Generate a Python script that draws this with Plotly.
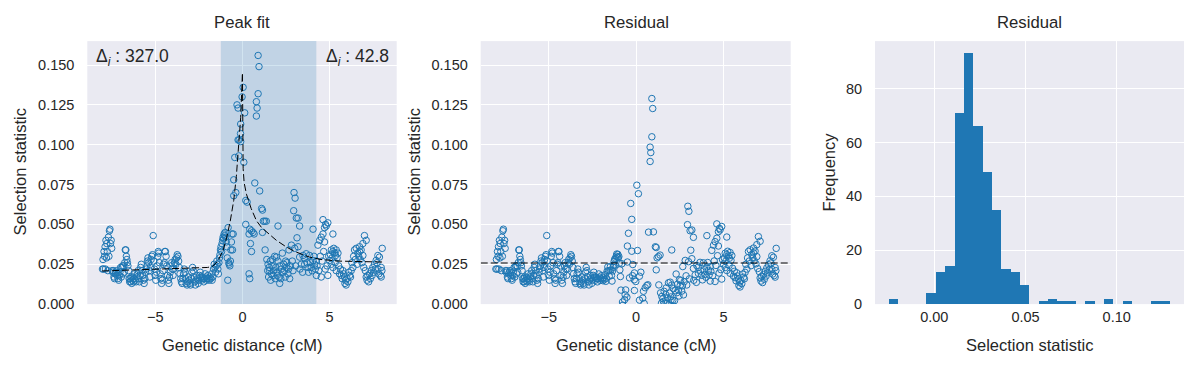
import numpy as np
import plotly.graph_objects as go

# ---------------- data ----------------
pos_left = [-8.03, -8.00, -7.97, -7.94, -7.91, -7.88, -7.86, -7.83, -7.80, -7.78, -7.75, -7.72, -7.69, -7.66, -7.63, -7.60, -7.57, -7.53, -7.50,
            -7.47, -7.44, -7.41, -7.37, -7.34, -7.30, -7.26, -7.22, -7.18, -7.14, -7.10, -7.06, -7.03,
            -6.99, -6.95, -6.92, -6.88, -6.85, -6.81, -6.78, -6.75, -6.72, -6.69, -6.66, -6.63, -6.60, -6.57, -6.53,
            -6.50, -6.47, -6.44, -6.41, -6.38, -6.35, -6.32, -6.28, -6.25, -6.22, -6.18, -6.14, -6.10, -6.06, -6.02,
            -5.98, -5.95, -5.91, -5.87, -5.84, -5.80, -5.76, -5.72, -5.68, -5.64, -5.60, -5.56, -5.52,
            -5.48, -5.45, -5.42, -5.38, -5.35, -5.31, -5.28, -5.24, -5.20, -5.16, -5.12, -5.09, -5.05, -5.01,
            -4.97, -4.93, -4.90, -4.86, -4.83, -4.80, -4.76, -4.72, -4.68, -4.64, -4.60, -4.56, -4.52,
            -4.48, -4.45, -4.42, -4.38, -4.34, -4.30, -4.26, -4.22, -4.18, -4.14, -4.10, -4.06, -4.02,
            -3.98, -3.94, -3.90, -3.86, -3.82, -3.78, -3.74, -3.70, -3.66, -3.62, -3.58, -3.54,
            -3.50, -3.46, -3.42, -3.38, -3.34, -3.30, -3.26, -3.22, -3.18, -3.14, -3.10, -3.06, -3.02,
            -2.98, -2.94, -2.90, -2.86, -2.82, -2.78, -2.74, -2.70, -2.66, -2.62, -2.58, -2.54,
            -2.50, -2.46, -2.42, -2.38, -2.34, -2.30, -2.26, -2.22, -2.18, -2.14, -2.10, -2.06, -2.02,
            -1.98, -1.94, -1.90, -1.86, -1.82, -1.78, -1.74, -1.70, -1.66, -1.62, -1.58, -1.54, -1.50]
stat_left = [0.022, 0.028, 0.022, 0.033, 0.030, 0.036, 0.022, 0.040, 0.029, 0.038, 0.033, 0.021, 0.042, 0.030, 0.046, 0.047, 0.038, 0.040, 0.035,
             0.021, 0.020, 0.021, 0.017, 0.016, 0.019, 0.020, 0.021, 0.018, 0.016, 0.015, 0.018, 0.020,
             0.023, 0.017, 0.023, 0.024, 0.019, 0.024, 0.020, 0.026, 0.034, 0.034, 0.030, 0.028, 0.026, 0.024, 0.021,
             0.016, 0.014, 0.016, 0.014, 0.017, 0.013, 0.015, 0.017, 0.014, 0.016, 0.019, 0.015, 0.014, 0.017, 0.019,
             0.021, 0.016, 0.014, 0.018, 0.023, 0.025, 0.021, 0.018, 0.015, 0.013, 0.016, 0.020, 0.022,
             0.024, 0.027, 0.029, 0.026, 0.021, 0.017, 0.023, 0.028, 0.030, 0.031, 0.043, 0.027, 0.022, 0.018,
             0.015, 0.020, 0.024, 0.030, 0.033, 0.032, 0.026, 0.019, 0.016, 0.013, 0.015, 0.021, 0.025,
             0.026, 0.033, 0.033, 0.030, 0.024, 0.018, 0.015, 0.013, 0.017, 0.020, 0.024, 0.026, 0.022,
             0.018, 0.022, 0.026, 0.028, 0.025, 0.029, 0.031, 0.030, 0.027, 0.023, 0.019, 0.016,
             0.014, 0.013, 0.016, 0.019, 0.022, 0.020, 0.016, 0.013, 0.012, 0.014, 0.017, 0.015, 0.013,
             0.012, 0.016, 0.020, 0.023, 0.021, 0.017, 0.014, 0.012, 0.015, 0.018, 0.016, 0.013,
             0.015, 0.018, 0.020, 0.017, 0.015, 0.017, 0.016, 0.014, 0.016, 0.019, 0.017, 0.015, 0.016,
             0.018, 0.016, 0.015, 0.017, 0.016, 0.019, 0.015, 0.017, 0.022, 0.025, 0.023, 0.020, 0.024]

pos_peak = [-1.47, -1.44, -1.41, -1.38, -1.35, -1.32, -1.29, -1.26, -1.23, -1.20, -1.17, -1.14, -1.11, -1.08, -1.05, -1.02,
            -0.99, -0.96, -0.93, -0.90, -0.87, -0.84, -0.82, -0.78, -0.76, -0.72, -0.69, -0.66, -0.63, -0.60, -0.57, -0.53,
            -0.50, -0.50, -0.44, -0.38, -0.31, -0.25, -0.25, -0.21, -0.19, -0.11, -0.10, -0.10, -0.02, 0.04, 0.08,
            0.13, 0.19, 0.19, 0.27, 0.38, 0.38, 0.42, 0.42, 0.46, 0.52, 0.52, 0.61, 0.67, 0.71,
            0.80, 0.80, 0.84, 0.90, 0.90, 0.95, 0.99, 1.10, 1.15, 1.15, 1.20, 1.28, 1.30, 1.37, 1.40, 1.45, 1.47]
stat_peak = [0.027, 0.025, 0.022, 0.019, 0.026, 0.029, 0.031, 0.034, 0.036, 0.033, 0.038, 0.040, 0.042, 0.041, 0.044, 0.043,
             0.045, 0.042, 0.039, 0.036, 0.029, 0.015, 0.048, 0.026, 0.025, 0.024, 0.027, 0.034, 0.039, 0.044, 0.034, 0.044,
             0.078, 0.068, 0.092, 0.070, 0.125, 0.123, 0.103, 0.093, 0.103, 0.107, 0.102, 0.113, 0.130, 0.136, 0.089,
             0.120, 0.065, 0.050, 0.064, 0.044, 0.019, 0.047, 0.016, 0.038, 0.046, 0.033, 0.045, 0.044, 0.076,
             0.127, 0.118, 0.123, 0.156, 0.132, 0.149, 0.071, 0.060, 0.059, 0.045, 0.052, 0.052, 0.034, 0.052, 0.028, 0.021, 0.025]

pos_right = [1.50, 1.53, 1.56, 1.60, 1.62, 1.66, 1.70, 1.72, 1.76, 1.80, 1.85, 1.88, 1.91, 1.95, 1.98, 2.00, 2.04, 2.04, 2.10,
             2.14, 2.14, 2.20, 2.23, 2.29, 2.33, 2.37, 2.42, 2.45, 2.48, 2.52, 2.55, 2.61, 2.65, 2.67, 2.71, 2.75, 2.81, 2.86,
             2.90, 2.94, 2.96, 3.00, 3.02, 3.05, 3.09, 3.13, 3.19, 3.19, 3.28, 3.28, 3.30, 3.38, 3.45, 3.47, 3.55, 3.57, 3.66,
             3.70, 3.76, 3.80, 3.85, 3.90, 3.95, 4.00, 4.05, 4.05, 4.10, 4.14, 4.18, 4.24, 4.24, 4.28,
             4.33, 4.38, 4.43, 4.47, 4.52, 4.52, 4.57, 4.62, 4.62, 4.66, 4.71, 4.71, 4.75, 4.77, 4.81, 4.85, 4.90, 4.90, 4.95,
             5.00, 5.05, 5.10, 5.10, 5.14, 5.19, 5.19, 5.19, 5.24, 5.29, 5.32, 5.34, 5.38, 5.38, 5.43, 5.48, 5.52, 5.57,
             5.62, 5.67, 5.72, 5.76, 5.80, 5.86, 5.88, 5.92, 5.95, 6.00, 6.05, 6.10, 6.15, 6.20, 6.24, 6.28, 6.34, 6.38,
             6.43, 6.48, 6.53, 6.58, 6.62, 6.67, 6.72, 6.72, 6.76, 6.81, 6.86, 6.91, 6.91, 6.96, 7.00, 7.05, 7.10, 7.10,
             7.15, 7.19, 7.24, 7.29, 7.34, 7.39, 7.44, 7.48, 7.53, 7.58, 7.62, 7.67, 7.72, 7.77, 7.77, 7.82, 7.86, 7.91,
             7.96, 7.96, 8.00, 8.02]
stat_right = [0.017, 0.023, 0.021, 0.027, 0.015, 0.019, 0.024, 0.028, 0.018, 0.021, 0.030, 0.016, 0.023, 0.0295, 0.020, 0.018, 0.027, 0.049, 0.017,
              0.024, 0.013, 0.016, 0.022, 0.032, 0.020, 0.025, 0.021, 0.017, 0.027, 0.023, 0.026, 0.019, 0.022, 0.034, 0.016, 0.024, 0.037, 0.027,
              0.021, 0.0586, 0.070, 0.035, 0.0665, 0.024, 0.054, 0.0416, 0.054, 0.036, 0.049, 0.0295, 0.022, 0.025, 0.020, 0.0305, 0.029, 0.025, 0.0316,
              0.026, 0.023, 0.020, 0.0305, 0.026, 0.023, 0.021, 0.047, 0.0274, 0.030, 0.025, 0.022, 0.018, 0.027, 0.024,
              0.037, 0.021, 0.040, 0.030, 0.042, 0.017, 0.027, 0.044, 0.053, 0.033, 0.048, 0.039, 0.022, 0.050, 0.049, 0.024, 0.051, 0.018, 0.030,
              0.0274, 0.031, 0.034, 0.025, 0.029, 0.033, 0.044, 0.023, 0.035, 0.032, 0.026, 0.0305, 0.034, 0.021, 0.029, 0.032, 0.024, 0.019,
              0.022, 0.018, 0.016, 0.021, 0.019, 0.017, 0.013, 0.015, 0.012, 0.016, 0.014, 0.020, 0.018, 0.017, 0.021, 0.026, 0.023, 0.030,
              0.034, 0.028, 0.035, 0.025, 0.032, 0.030, 0.033, 0.036, 0.028, 0.034, 0.026, 0.0305, 0.038, 0.023, 0.043, 0.021, 0.040, 0.017,
              0.015, 0.018, 0.014, 0.019, 0.016, 0.021, 0.018, 0.023, 0.020, 0.025, 0.022, 0.0274, 0.026, 0.0305, 0.022, 0.019, 0.0295, 0.018,
              0.023, 0.017, 0.021, 0.035]

# fitted peak model (dashed line)
fit_x = [-8.05, -6.0, -4.0, -2.5, -2.0, -1.7, -1.4, -1.1, -0.9, -0.7, -0.5, -0.35, -0.2, -0.1, 0.0,
         0.04, 0.1, 0.23, 0.5, 0.8, 1.1, 1.5, 1.95, 2.5, 3.0, 3.85, 4.5, 5.5, 6.5, 8.05]
fit_y = [0.0208, 0.0215, 0.0222, 0.0227, 0.0230, 0.0238, 0.0272, 0.034, 0.042, 0.052, 0.065, 0.080, 0.100, 0.117, 0.145,
         0.085, 0.076, 0.069, 0.060, 0.0524, 0.048, 0.044, 0.040, 0.036, 0.033, 0.0295, 0.028, 0.027, 0.0268, 0.0264]
base_x = [-8.05, 8.05]
base_y = [0.0208, 0.0264]

span_range = [-1.24, 4.24]
resid_level = 0.0258
delta_left = "327.0"
delta_right = "42.8"

hist_lo, hist_hi = -0.0248, 0.129
hist_counts = [2, 0, 0, 0, 4, 12, 14, 71, 93, 66, 49, 35, 13, 12, 7, 0, 1, 2, 1, 1, 0, 1, 0, 2, 0, 1, 0, 0, 1, 1]

# ---------------- derived tables ----------------
gen_pos = np.array(pos_left + pos_peak + pos_right)
sel_stat = np.array(stat_left + stat_peak + stat_right)
excess = np.interp(gen_pos, fit_x, fit_y) - np.interp(gen_pos, base_x, base_y)
resid = sel_stat - excess

nb = len(hist_counts)
bw = (hist_hi - hist_lo) / nb
centers = [hist_lo + (i + 0.5) * bw for i in range(nb)]

Y1_RANGE = [0, 0.165]
X1_RANGE = [-8.9, 8.85]
BLUE = "#1f77b4"
TXT = "#262626"
FONT = "Liberation Sans, Arial, sans-serif"

fig = go.Figure()
# shaded window (drawn first, so it sits above the grid and under the points)
fig.add_trace(go.Scatter(x=[span_range[0], span_range[1], span_range[1], span_range[0], span_range[0]],
                         y=[Y1_RANGE[0], Y1_RANGE[0], Y1_RANGE[1], Y1_RANGE[1], Y1_RANGE[0]],
                         mode="lines", fill="toself", fillcolor="rgba(31,119,180,0.2)",
                         line=dict(width=0), hoverinfo="skip", xaxis="x", yaxis="y"))
marker = dict(symbol="circle-open", size=6.5, color=BLUE, line=dict(width=1, color=BLUE))
fig.add_trace(go.Scatter(x=gen_pos, y=sel_stat, mode="markers", marker=marker, xaxis="x", yaxis="y"))
fig.add_trace(go.Scatter(x=fit_x, y=fit_y, mode="lines", line=dict(color="black", width=1, dash="7px,3px"),
                         xaxis="x", yaxis="y"))
fig.add_trace(go.Scatter(x=gen_pos, y=resid, mode="markers", marker=marker, xaxis="x2", yaxis="y2"))
fig.add_trace(go.Scatter(x=X1_RANGE, y=[resid_level, resid_level], mode="lines",
                         line=dict(color="black", width=1.1, dash="7px,3px"), xaxis="x2", yaxis="y2"))
fig.add_trace(go.Bar(x=centers, y=hist_counts, width=bw, marker=dict(color=BLUE, line=dict(width=0)),
                     xaxis="x3", yaxis="y3"))

# positions are given in reference-picture pixels (1199 x 368)
REF_W, REF_H = 1199, 368
W, H = 1199, 377


def px(x):
    return x / REF_W


def py(y):
    return 1 - y / REF_H


ydom = [py(303.3), py(41)]
doms = [[px(87.3), px(396.7)], [px(480.7), px(790.7)], [px(875), px(1184)]]

ax_common = dict(showgrid=True, gridcolor="white", gridwidth=1.4, zeroline=False, showline=False,
                 tickfont=dict(size=14.5, color=TXT, family=FONT))
xt = dict(ticks="", ticklabelstandoff=2, **ax_common)
yt = dict(ticks="outside", ticklen=9, tickcolor="rgba(0,0,0,0)", **ax_common)

fig.update_layout(
    width=W, height=H, margin=dict(l=0, r=0, t=0, b=0),
    paper_bgcolor="white", plot_bgcolor="#EAEAF2", showlegend=False, bargap=0,
    font=dict(family=FONT, color=TXT),
    xaxis=dict(domain=doms[0], range=X1_RANGE, tickvals=[-5, 0, 5], anchor="y", **xt),
    yaxis=dict(domain=ydom, range=Y1_RANGE, tickvals=[0, 0.025, 0.05, 0.075, 0.1, 0.125, 0.15],
               tickformat=".3f", anchor="x", **yt),
    xaxis2=dict(domain=doms[1], range=X1_RANGE, tickvals=[-5, 0, 5], anchor="y2", **xt),
    yaxis2=dict(domain=ydom, range=Y1_RANGE, tickvals=[0, 0.025, 0.05, 0.075, 0.1, 0.125, 0.15],
                tickformat=".3f", anchor="x2", **yt),
    xaxis3=dict(domain=doms[2], range=[-0.0325, 0.1369], tickvals=[0, 0.05, 0.1], tickformat=".2f",
                anchor="y3", **xt),
    yaxis3=dict(domain=ydom, range=[0, 97.6], tickvals=[0, 20, 40, 60, 80], anchor="x3", **yt),
)


def ann(text, x, y, size, xanchor="center", yanchor="middle", angle=0):
    fig.add_annotation(text=text, x=px(x), y=py(y), xref="paper", yref="paper", showarrow=False,
                       xanchor=xanchor, yanchor=yanchor, textangle=angle,
                       font=dict(size=size, color=TXT, family=FONT))


# titles
ann("Peak fit", 242, 22, 16.7)
ann("Residual", 636, 22, 16.7)
ann("Residual", 1029.5, 22, 16.7)
# axis labels
ann("Genetic distance (cM)", 242, 344, 16.5)
ann("Genetic distance (cM)", 636, 344, 16.5)
ann("Selection statistic", 1029.5, 344, 16.5)
ann("Selection statistic", 20, 172, 16.5, angle=-90)
ann("Selection statistic", 414, 172, 16.5, angle=-90)
ann("Frequency", 829, 172, 16.5, angle=-90)
# delta annotations
ann("Δ<sub><i>i</i></sub> : " + delta_left, 94, 57, 17.5, xanchor="left")
ann("Δ<sub><i>i</i></sub> : " + delta_right, 391, 57, 17.5, xanchor="right")

fig.write_html("out.html", config={"displayModeBar": False},
               post_script="document.body.style.margin='0px';")
